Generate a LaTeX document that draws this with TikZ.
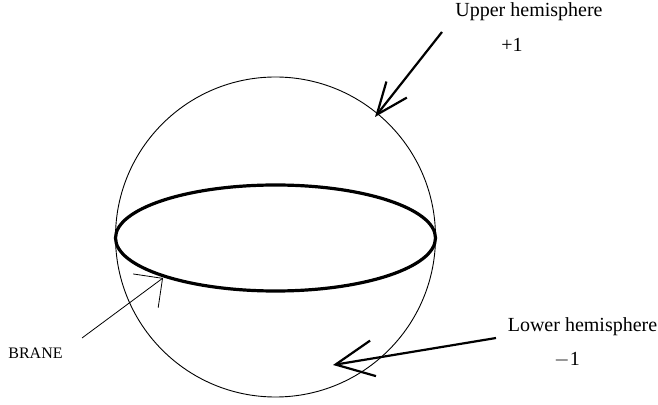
\documentclass[tikz,border=0pt]{standalone}
\usepackage{fontspec}
\setmainfont{Liberation Serif}
\usetikzlibrary{positioning,arrows.meta}

\begin{document}
\begin{tikzpicture}[
  x=0.5pt, y=-0.5pt,
  lbl/.style={anchor=base, font=\fontsize{10}{12}\selectfont, inner sep=0pt},
  small/.style={anchor=base, font=\fontsize{8}{10}\selectfont, inner sep=0pt},
  bigarr/.style={-{Straight Barb[length=16pt, width=13pt, line width=1.1pt]}, line width=1.1pt},
  lowarr/.style={-{Straight Barb[length=19pt, width=18pt, line width=1.1pt]}, line width=1.1pt},
  thinarr/.style={-{Straight Barb[length=10.5pt, width=21pt, line width=0.4pt]}, line width=0.4pt}
]
\useasboundingbox (0,0) rectangle (658,405);
% sphere and brane
\draw[line width=0.45pt] (275.5,237) circle[radius=160];
\draw[line width=1.6pt] (275.5,238) ellipse[x radius=160, y radius=53];
% labels
\node[lbl] (upper) at (529,17) {Upper hemisphere};
\node[lbl] (plus) at (512,52) {+1};
\node[lbl] (lower) at (582.5,332) {Lower hemisphere};
\node[lbl] (minus) at (567,365) {$-$1};
\node[small] (brane) at (35.5,358) {BRANE};
% arrow ends
\coordinate (ustart) at (442,32);
\coordinate (utip) at (375,117);
\coordinate (lstart) at (496,338);
\coordinate (ltip) at (333,365);
\coordinate (bstart) at (82,338);
\coordinate (btip) at (163,278);
\draw[bigarr] (ustart) -- (utip);
\draw[lowarr] (lstart) -- (ltip);
\draw[thinarr] (bstart) -- (btip);
\end{tikzpicture}
\end{document}
